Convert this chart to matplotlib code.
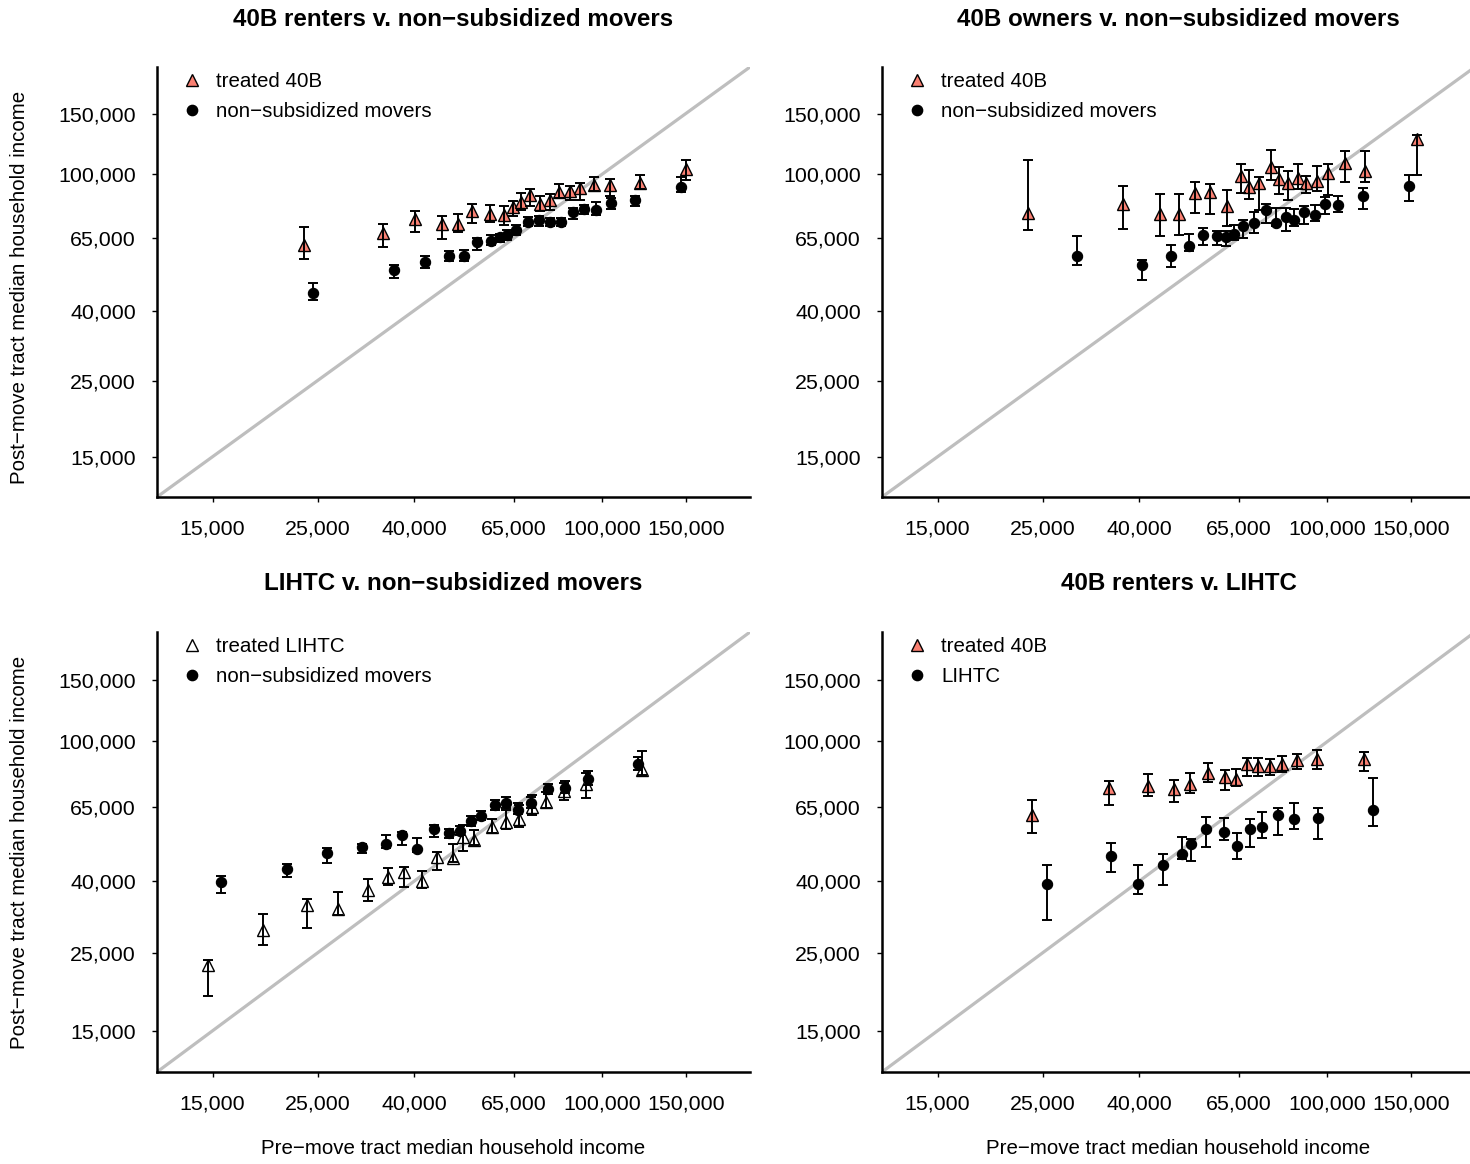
import matplotlib
matplotlib.use("Agg")
import matplotlib.pyplot as plt
from matplotlib.lines import Line2D
from matplotlib.ticker import NullLocator
import numpy as np

plt.rcParams['font.family'] = ['Liberation Sans', 'DejaVu Sans']

# Axis ticks shared by every panel (log-scaled income axes)
TICKS = [15000, 25000, 40000, 65000, 100000, 150000]
TICK_LABELS = ["15,000", "25,000", "40,000", "65,000", "100,000", "150,000"]
AX_LIM = (11450, 205000)

# ---- 40B renters v. non-subsidized movers ----
a_treat_x = [23400, 34300, 40200, 45800, 49600, 53100, 57900, 61800, 64700, 67400,
             70400, 73900, 77400, 81100, 85200, 89600, 95900, 103500, 120000, 150000]
a_treat_y = [61900, 67300, 74100, 71700, 71500, 77800, 76500, 75800, 79900, 82700,
             87000, 81800, 84200, 88400, 89000, 91100, 93100, 93100, 94200, 103400]
a_treat_lo = [56500, 61300, 67800, 64800, 67600, 72100, 72600, 70800, 75300, 78700,
              80500, 77800, 78700, 85100, 84200, 84200, 89000, 86500, 90600, 95800]
a_treat_hi = [69900, 71700, 78200, 75300, 76600, 81900, 81400, 80500, 83200, 88000,
              90400, 86500, 87500, 93700, 92500, 94200, 97800, 96700, 99500, 110100]
a_comp_x = [24400, 36200, 42200, 47500, 50900, 54300, 58200, 60800, 62900, 65800,
            69500, 73300, 77600, 81800, 86600, 91600, 96700, 104500, 116900, 146400]
a_comp_y = [44900, 52400, 55500, 57800, 57800, 63200, 63900, 65400, 66600, 68800,
            72300, 73600, 72300, 72300, 77300, 79100, 78300, 82300, 84200, 91700]
a_comp_lo = [43000, 49800, 53200, 55600, 55900, 60200, 61900, 63200, 64400, 66600,
             70400, 70400, 70400, 70400, 74000, 76500, 76100, 79100, 80500, 88400]
a_comp_hi = [48100, 54400, 57800, 59500, 59900, 65100, 66200, 67000, 68500, 71200,
             74700, 75300, 74400, 74400, 79600, 81400, 82700, 85100, 86500, 98000]

# ---- 40B owners v. non-subsidized movers ----
b_treat_x = [23300, 36900, 44200, 48500, 52500, 56400, 61200, 65600, 68300, 71700,
             75800, 79000, 82400, 86700, 90300, 95100, 100400, 108900, 120000, 154300]
b_treat_y = [77000, 81900, 76600, 76600, 88000, 88400, 80500, 98400, 91700, 94200,
             104500, 96900, 94200, 97400, 94200, 95200, 100700, 107700, 101800, 126800]
b_treat_lo = [68500, 69200, 65800, 66200, 77000, 76500, 70400, 88000, 84600, 78700,
              96300, 87600, 84200, 90600, 88000, 89000, 86600, 94500, 94500, 99500]
b_treat_hi = [110100, 92000, 87600, 87600, 94800, 93700, 90000, 107200, 102900, 98000,
              117200, 104900, 101800, 107200, 98900, 105200, 107200, 116400, 117000, 130200]
b_comp_x = [29600, 40500, 46800, 51000, 54500, 58300, 61000, 63500, 66400, 70000,
            74100, 77700, 81600, 85100, 89200, 94100, 98900, 105400, 118600, 148900]
b_comp_y = [57500, 54300, 57500, 61800, 66600, 65800, 65400, 66900, 70400, 72000,
            78700, 72000, 74700, 73600, 77500, 75800, 81900, 81400, 86500, 92000]
b_comp_lo = [54400, 49000, 53600, 59500, 62200, 62200, 61500, 64400, 65100, 67300,
             72000, 70400, 68000, 70400, 71500, 72800, 76600, 77500, 79100, 83200]
b_comp_hi = [65800, 56300, 61900, 66900, 69600, 68000, 68000, 70800, 73600, 77300,
             81900, 79600, 79600, 79100, 80900, 81000, 85500, 86500, 91100, 99100]

# ---- LIHTC v. non-subsidized movers ----
c_treat_x = [14700, 19200, 23800, 27600, 31900, 35200, 38100, 41500, 44700, 48300,
             50700, 53400, 58400, 62600, 66700, 71000, 76100, 83100, 92400, 121400]
c_treat_y = [23100, 29000, 34200, 33300, 37700, 41000, 42500, 40000, 46900, 46700,
             53500, 52300, 56900, 59000, 60300, 65100, 67300, 72300, 75900, 83200]
c_treat_lo = [18800, 26300, 29500, 32000, 35100, 39000, 38500, 38300, 43000, 45500,
              48700, 50700, 55000, 56300, 56900, 61700, 64700, 68000, 69100, 80100]
c_treat_hi = [23900, 32300, 35500, 37300, 40500, 43500, 43900, 42800, 48500, 51000,
              57700, 55900, 60300, 63700, 65800, 70300, 71800, 76400, 81300, 93800]
c_comp_x = [15600, 21500, 26200, 31000, 34900, 37700, 40500, 44100, 47400, 50000,
            52700, 55400, 59200, 62500, 66300, 70800, 76600, 83500, 93300, 119100]
c_comp_y = [39700, 43200, 48200, 49900, 51000, 54000, 49400, 56300, 54700, 55600,
            59300, 61400, 65800, 66800, 64000, 67000, 73100, 73900, 78400, 86500]
c_comp_lo = [37100, 41000, 45200, 48000, 49600, 50700, 48500, 53300, 53000, 54100,
             57300, 59700, 63700, 64600, 62100, 64600, 70800, 71200, 75100, 82800]
c_comp_hi = [41400, 44700, 49800, 51200, 54100, 55300, 53100, 57700, 56300, 57300,
             61300, 63300, 68000, 69400, 66700, 69400, 75500, 77000, 82300, 90200]

# ---- 40B renters v. LIHTC ----
d_treat_x = [23700, 34600, 41700, 47400, 51200, 55800, 60700, 64100, 67500, 71400,
             75600, 80000, 86300, 94900, 119200]
d_treat_y = [61900, 73700, 74700, 73400, 75900, 81300, 79200, 78400, 86000, 85000,
             85000, 86500, 88400, 89400, 89400]
d_treat_lo = [55000, 66100, 70000, 67300, 71100, 76700, 72600, 74600, 79800, 79800,
              80500, 81900, 83300, 83300, 82300]
d_treat_hi = [68000, 77000, 80700, 77500, 81300, 86900, 82800, 83700, 89800, 89800,
              89400, 90900, 92000, 94800, 93300]
d_comp_x = [25500, 34900, 39800, 45000, 49200, 51600, 55500, 60500, 64300, 68600,
            72900, 78500, 84900, 95300, 124600]
d_comp_y = [39200, 47100, 39300, 44600, 47800, 51200, 56500, 55300, 50400, 56300,
            57100, 61700, 60300, 60600, 64000]
d_comp_lo = [31000, 42400, 36900, 39000, 46400, 45600, 50100, 52300, 46400, 50100,
             53100, 54100, 56500, 52900, 57500]
d_comp_hi = [44600, 51400, 44600, 47700, 53500, 52900, 61000, 60700, 55000, 60100,
             62800, 64800, 66600, 64800, 78900]

SALMON = "#FA8072"
DIAG_GREY = "#BEBEBE"
TXT = 14.8
TICK_TXT = 15.4
TITLE = 17.4

W, H = 1470, 1164
fig = plt.figure(figsize=(W / 100, H / 100), dpi=100)


def add_box(left, top, right, bottom):
    return fig.add_axes([left / W, 1 - bottom / H, (right - left) / W, (bottom - top) / H])


def draw_panel(ax, title, treat, comp, treat_fill, treat_label, comp_label, title_y):
    tx, ty, tlo, thi = (np.asarray(v, dtype=float) for v in treat)
    cx, cy, clo, chi = (np.asarray(v, dtype=float) for v in comp)

    ax.set_xscale('log')
    ax.set_yscale('log')
    ax.set_xlim(AX_LIM)
    ax.set_ylim(AX_LIM)

    # 45-degree reference line
    ax.plot(AX_LIM, AX_LIM, color=DIAG_GREY, lw=2.3, zorder=1, solid_capstyle='butt')

    ax.plot(tx, ty, ls='none', marker='^', ms=9.0, mfc=treat_fill, mec='black',
            mew=1.0, zorder=3)
    ax.errorbar(tx, ty, yerr=[ty - tlo, thi - ty], fmt='none', ecolor='black',
                elinewidth=1.4, capsize=3.6, capthick=1.4, zorder=4)
    ax.plot(cx, cy, ls='none', marker='o', ms=7.4, mfc='black', mec='black',
            mew=0.8, zorder=5)
    ax.errorbar(cx, cy, yerr=[cy - clo, chi - cy], fmt='none', ecolor='black',
                elinewidth=1.4, capsize=3.6, capthick=1.4, zorder=6)

    ax.set_xticks(TICKS)
    ax.set_xticklabels(TICK_LABELS)
    ax.set_yticks(TICKS)
    ax.set_yticklabels(TICK_LABELS)
    ax.xaxis.set_minor_locator(NullLocator())
    ax.yaxis.set_minor_locator(NullLocator())
    ax.tick_params(axis='both', direction='out', length=3.6, width=1.0,
                   labelsize=TICK_TXT, colors='black')
    ax.tick_params(axis='x', pad=12.3)
    ax.tick_params(axis='y', pad=11.6)

    for side in ('top', 'right'):
        ax.spines[side].set_visible(False)
    for side in ('left', 'bottom'):
        ax.spines[side].set_linewidth(1.8)

    handles = [
        Line2D([], [], ls='none', marker='^', ms=9.0, mfc=treat_fill, mec='black', mew=1.0),
        Line2D([], [], ls='none', marker='o', ms=7.4, mfc='black', mec='black'),
    ]
    h_px = bb_px_height(ax)
    ax.legend(handles, [treat_label, comp_label], loc='upper left',
              bbox_to_anchor=(0.042, 1.0 - 5.0 / h_px), frameon=False, fontsize=TXT,
              handlelength=1.0, handletextpad=0.66, labelspacing=0.54,
              borderpad=0.0, borderaxespad=0.0)

    bb = ax.get_position()
    fig.text(bb.x0 + bb.width / 2, title_y, title, ha='center', va='center',
             fontsize=TITLE, fontweight='bold')


def bb_px_height(ax):
    return ax.get_position().height * H


MINUS = "\u2212"
panels = [
    ((157, 67, 750, 497), "40B renters v. non" + MINUS + "subsidized movers",
     (a_treat_x, a_treat_y, a_treat_lo, a_treat_hi),
     (a_comp_x, a_comp_y, a_comp_lo, a_comp_hi),
     SALMON, "treated 40B", "non" + MINUS + "subsidized movers", 1 - 19 / H),
    ((882, 67, 1475, 497), "40B owners v. non" + MINUS + "subsidized movers",
     (b_treat_x, b_treat_y, b_treat_lo, b_treat_hi),
     (b_comp_x, b_comp_y, b_comp_lo, b_comp_hi),
     SALMON, "treated 40B", "non" + MINUS + "subsidized movers", 1 - 19 / H),
    ((157, 632, 750, 1072), "LIHTC v. non" + MINUS + "subsidized movers",
     (c_treat_x, c_treat_y, c_treat_lo, c_treat_hi),
     (c_comp_x, c_comp_y, c_comp_lo, c_comp_hi),
     'white', "treated LIHTC", "non" + MINUS + "subsidized movers", 1 - 584 / H),
    ((882, 632, 1475, 1072), "40B renters v. LIHTC",
     (d_treat_x, d_treat_y, d_treat_lo, d_treat_hi),
     (d_comp_x, d_comp_y, d_comp_lo, d_comp_hi),
     SALMON, "treated 40B", "LIHTC", 1 - 584 / H),
]

for box, title, treat, comp, fill, tlab, clab, ty in panels:
    ax = add_box(*box)
    draw_panel(ax, title, treat, comp, fill, tlab, clab, ty)

ylab = "Post" + MINUS + "move tract median household income"
xlab = "Pre" + MINUS + "move tract median household income"
fig.text(20 / W, 1 - 287 / H, ylab, rotation=90, ha='center', va='center', fontsize=TXT)
fig.text(20 / W, 1 - 852 / H, ylab, rotation=90, ha='center', va='center', fontsize=TXT)
fig.text((157 + 750) / 2 / W, 1 - 1148 / H, xlab, ha='center', va='center', fontsize=TXT)
fig.text((882 + 1475) / 2 / W, 1 - 1148 / H, xlab, ha='center', va='center', fontsize=TXT)

fig.savefig("out.png", dpi=100, facecolor='white')
